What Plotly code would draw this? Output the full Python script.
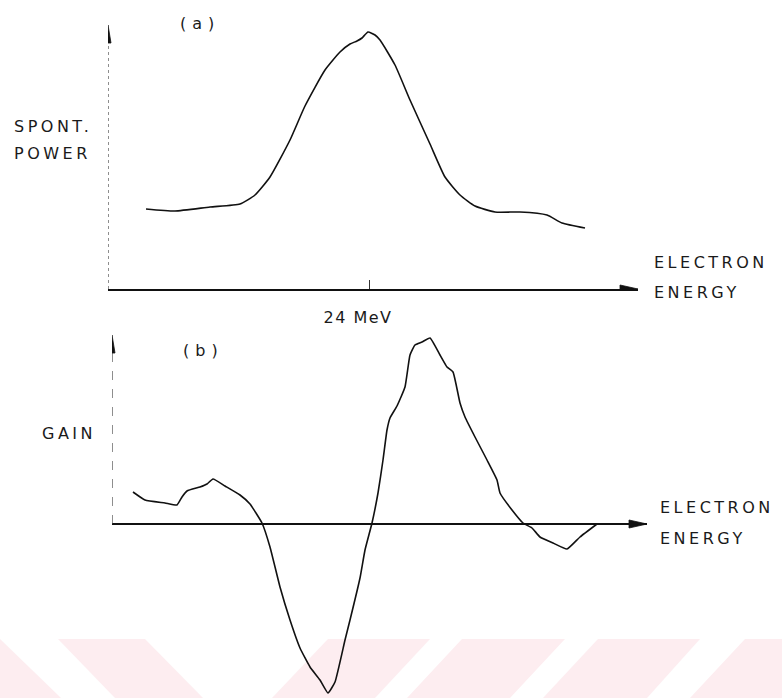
import plotly.graph_objects as go

# ---------------- data (arbitrary units) ----------------
# (a) spontaneous power vs electron energy
spont_energy = [3.8, 6.7, 10.2, 13.2, 14.7, 16.2, 18.2, 19.7, 21.7, 23.2, 24.2, 24.9, 25.4,
                26.0, 26.7, 27.2, 28.7, 30.2, 32.2, 33.7, 35.2, 36.7, 38.7, 41.2, 43.9, 45.4, 47.7]
spont_power = [8.0, 7.8, 8.2, 8.5, 9.4, 11.2, 14.9, 18.3, 21.9, 23.7, 24.5, 24.8, 25.1,
               25.7, 25.4, 24.9, 22.4, 18.9, 14.5, 11.2, 9.4, 8.3, 7.7, 7.7, 7.4, 6.6, 6.1]

# (b) gain vs electron energy
gain_energy = [2.1, 3.3, 5.3, 6.5, 7.0, 7.5, 8.8, 9.5, 10.1, 11.3, 12.8, 13.8, 15.0, 15.8,
               16.8, 17.8, 18.8, 19.8, 20.8, 21.6, 22.3, 23.3, 23.8, 24.8, 25.3, 26.0, 26.6,
               27.1, 27.5, 27.8, 28.5, 29.3, 29.8, 30.3, 31.0, 31.8, 32.8, 33.5, 34.1, 34.8,
               35.3, 36.3, 37.5, 38.5, 38.8, 40.0, 41.1, 42.0, 42.8, 44.1, 45.5, 46.8, 48.5]
gain_value = [3.2, 2.4, 2.1, 1.9, 2.7, 3.3, 3.7, 4.0, 4.5, 3.8, 2.9, 2.0, 0.1, -2.3,
              -6.3, -9.6, -12.4, -14.3, -15.6, -16.9, -15.8, -11.6, -9.6, -5.4, -2.6, 0.1, 3.1,
              6.4, 9.4, 10.6, 11.8, 13.7, 16.9, 17.9, 18.2, 18.6, 16.9, 15.7, 15.2, 12.1,
              10.7, 8.7, 6.4, 4.4, 3.1, 1.4, 0.1, -0.4, -1.3, -1.9, -2.5, -1.3, 0.0]

tick_energy = [26.1]
tick_labels = ["24 MeV"]

# axis extents (data units)
top_x_end, top_y_end = 53.0, 26.4
bot_x_end, bot_y_end = 53.5, 18.9

W, H = 782, 698
INK = "#111111"
FONT = "DejaVu Sans"


def spaced(t, sp=3.5):
    return f'<span style="letter-spacing:{sp}px">{t}</span>'


fig = go.Figure()

fig.add_trace(go.Scatter(x=spont_energy, y=spont_power, mode="lines",
                         line=dict(color=INK, width=1.6, shape="spline", smoothing=0.5),
                         xaxis="x", yaxis="y", showlegend=False, hoverinfo="skip"))
fig.add_trace(go.Scatter(x=gain_energy, y=gain_value, mode="lines",
                         line=dict(color=INK, width=1.6, shape="spline", smoothing=0.4),
                         xaxis="x2", yaxis="y2", showlegend=False, hoverinfo="skip"))

shapes = []
# watermark band at the bottom
pink = "rgb(253,237,240)"
band = [
    [(0, 639), (0, 698), (61, 698)],
    [(58, 639), (145, 639), (203, 698), (115, 698)],
    [(328, 639), (430, 639), (375, 698), (272, 698)],
    [(462, 639), (565, 639), (510, 698), (407, 698)],
    [(598, 639), (700, 639), (647, 698), (543, 698)],
    [(745, 639), (782, 639), (782, 698), (690, 698)],
]
for poly in band:
    path = "M " + " L ".join(f"{px / W:.5f},{1 - py / H:.5f}" for px, py in poly) + " Z"
    shapes.append(dict(type="path", xref="paper", yref="paper", path=path,
                       fillcolor=pink, line=dict(width=0), layer="below"))

# dotted / dashed vertical axes
shapes.append(dict(type="line", xref="x", yref="y", x0=0, x1=0, y0=0, y1=top_y_end - 1.4,
                   line=dict(color="#444", width=1.2, dash="dot")))
shapes.append(dict(type="line", xref="x2", yref="y2", x0=0, x1=0, y0=0, y1=bot_y_end - 1.4,
                   line=dict(color="#444", width=1.2, dash="dash")))


def head(xref, yref, tip_x, tip_y, horizontal, length, half):
    if horizontal:
        p = f"M {tip_x},{tip_y} L {tip_x - length},{tip_y + half} L {tip_x - length},{tip_y - half} Z"
    else:
        p = f"M {tip_x},{tip_y} L {tip_x - half},{tip_y - length} L {tip_x + half},{tip_y - length} Z"
    return dict(type="path", xref=xref, yref=yref, path=p, fillcolor=INK,
                line=dict(color=INK, width=0.8))


shapes.append(head("x", "y", top_x_end, 0, True, 1.8, 0.4))
shapes.append(head("x2", "y2", bot_x_end, 0, True, 1.8, 0.4))
shapes.append(head("x", "y", 0, top_y_end, False, 1.8, 0.3))
shapes.append(head("x2", "y2", 0, bot_y_end, False, 1.8, 0.3))

ann = []


def label(text, px, py, anchor="left", size=16, sp=3.5):
    ann.append(dict(text=spaced(text, sp), x=px / W, y=1 - py / H, xref="paper", yref="paper",
                    xanchor=anchor, yanchor="middle", showarrow=False,
                    font=dict(family=FONT, size=size, color="#1a1a1a")))


label("(a)", 200, 23, "center", 16, 6)
label("SPONT.", 12, 127)
label("POWER", 12, 153)
label("ELECTRON", 652, 262)
label("ENERGY", 652, 293)
label("(b)", 203, 350, "center", 16, 6)
label("GAIN", 40, 433)
label("ELECTRON", 658, 507)
label("ENERGY", 658, 538)

fig.update_layout(
    width=W, height=H, autosize=False,
    margin=dict(l=0, r=0, t=0, b=0),
    paper_bgcolor="white", plot_bgcolor="rgba(0,0,0,0)",
    showlegend=False,
    shapes=shapes, annotations=ann,
    xaxis=dict(domain=[108 / W, 638 / W], range=[0, top_x_end], showline=True,
               linecolor=INK, linewidth=2, showgrid=False, zeroline=False,
               tickmode="array", tickvals=tick_energy,
               ticktext=[spaced(t, 1.5) for t in tick_labels],
               ticks="inside", ticklen=9, tickwidth=1, tickcolor="#333",
               ticklabelstandoff=13, ticklabelshift=-11,
               tickfont=dict(family=FONT, size=16, color="#1a1a1a"), fixedrange=True),
    yaxis=dict(domain=[1 - 289 / H, 1], range=[0, 28.9], visible=False, fixedrange=True),
    xaxis2=dict(domain=[112 / W, 647 / W], range=[0, bot_x_end], visible=False,
                anchor="y2", fixedrange=True),
    yaxis2=dict(domain=[0, 1 - 330 / H], range=[-17.4, 19.4], anchor="x2",
                showticklabels=False, ticks="", showgrid=False, showline=False,
                zeroline=True, zerolinecolor=INK, zerolinewidth=2, fixedrange=True),
)

fig.write_html("out.html")
